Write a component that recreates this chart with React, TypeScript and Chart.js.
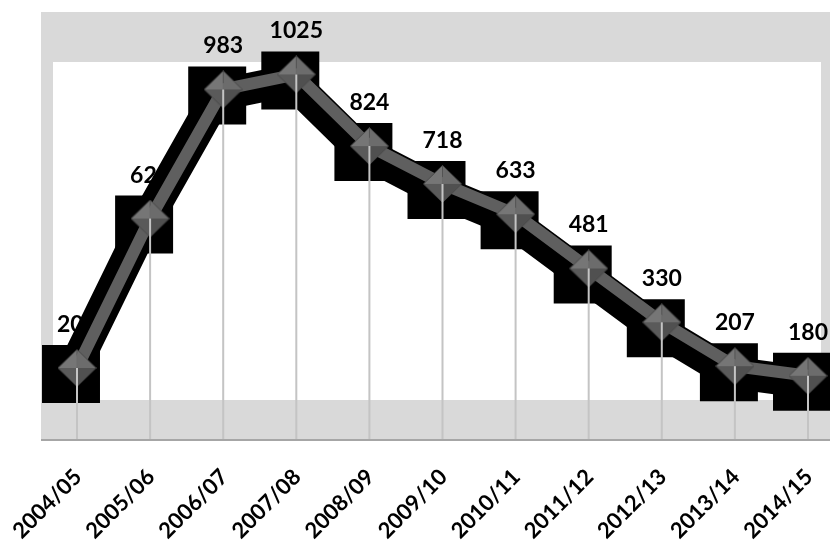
import React, { useEffect, useRef } from "react";
import { Chart, registerables } from "chart.js";

Chart.register(...registerables);

const categories = [
  "2004/05", "2005/06", "2006/07", "2007/08", "2008/09", "2009/10",
  "2010/11", "2011/12", "2012/13", "2013/14", "2014/15",
];
const values = [202, 621, 983, 1025, 824, 718, 633, 481, 330, 207, 180];
const yMin = 0;
const yMax = 1200;

function makeDiamond(): HTMLCanvasElement {
  const c = document.createElement("canvas");
  c.width = 39;
  c.height = 38;
  const g = c.getContext("2d")!;
  const cx = 19.5, cy = 19;
  const L = [0.5, 19], T = [19.5, 0.5], R = [38.5, 19], B = [19.5, 37.5];
  const facet = (a: number[], b: number[], col: string) => {
    g.beginPath();
    g.moveTo(a[0], a[1]);
    g.lineTo(b[0], b[1]);
    g.lineTo(cx, cy);
    g.closePath();
    g.fillStyle = col;
    g.fill();
  };
  facet(L, T, "#767676");
  facet(T, R, "#6c6c6c");
  facet(R, B, "#505050");
  facet(B, L, "#5a5a5a");
  g.beginPath();
  g.moveTo(L[0], L[1]); g.lineTo(T[0], T[1]); g.lineTo(R[0], R[1]); g.lineTo(B[0], B[1]); g.closePath();
  g.strokeStyle = "#4a4a4a";
  g.lineWidth = 1;
  g.stroke();
  return c;
}

const decorPlugin = {
  id: "decor",
  beforeDraw(chart: any) {
    const { ctx, chartArea } = chart;
    const left = chartArea.left - 36;
    const right = chart.width;
    ctx.save();
    ctx.fillStyle = "#d9d9d9";
    ctx.fillRect(left, chartArea.top, right - left, chartArea.bottom - chartArea.top);
    ctx.fillStyle = "#ffffff";
    ctx.fillRect(left + 12, chartArea.top + 50, right - 9 - (left + 12), chartArea.bottom - 40 - (chartArea.top + 50));
    ctx.restore();
  },
  beforeDatasetsDraw(chart: any) {
    const { ctx } = chart;
    const meta = chart.getDatasetMeta(0);
    ctx.save();
    ctx.font = "bold 23px Lato";
    ctx.fillStyle = "#000000";
    ctx.textAlign = "center";
    ctx.textBaseline = "alphabetic";
    meta.data.forEach((pt: any, i: number) => {
      ctx.fillText(String(values[i]), pt.x, pt.y - 36);
    });
    ctx.restore();
  },
  beforeDatasetDraw(chart: any, args: any) {
    if (args.index === 1) {
      chart.ctx.save();
      chart.ctx.translate(-6, 6);
    }
  },
  afterDatasetDraw(chart: any, args: any) {
    if (args.index === 1) {
      chart.ctx.restore();
    }
  },
  afterDatasetsDraw(chart: any) {
    const { ctx, chartArea } = chart;
    const meta = chart.getDatasetMeta(0);
    ctx.save();
    ctx.strokeStyle = "#c4c4c4";
    ctx.lineWidth = 2;
    meta.data.forEach((pt: any) => {
      ctx.beginPath();
      ctx.moveTo(pt.x, pt.y);
      ctx.lineTo(pt.x, chartArea.bottom);
      ctx.stroke();
    });
    ctx.strokeStyle = "#a6a6a6";
    ctx.lineWidth = 2;
    ctx.beginPath();
    ctx.moveTo(chartArea.left - 36, chartArea.bottom);
    ctx.lineTo(chart.width, chartArea.bottom);
    ctx.stroke();
    ctx.restore();
  },
};

export default function App() {
  const ref = useRef<HTMLCanvasElement>(null);
  useEffect(() => {
    if (!ref.current) return;
    const diamond = makeDiamond();
    const chart = new Chart(ref.current, {
      type: "line",
      data: {
        labels: categories,
        datasets: [
          {
            label: "main",
            data: values,
            borderColor: "#5f5f5f",
            borderWidth: 12,
            borderCapStyle: "butt",
            pointStyle: diamond as any,
            pointRadius: 19,
            pointBackgroundColor: "#666666",
            pointBorderWidth: 0,
            clip: false as any,
            order: 1,
          },
          {
            label: "shadow",
            data: values,
            borderColor: "#000000",
            borderWidth: 32,
            borderJoinStyle: "round",
            pointStyle: "rect",
            pointRadius: 41,
            pointBackgroundColor: "#000000",
            pointBorderColor: "#000000",
            pointBorderWidth: 0,
            clip: false as any,
            order: 2,
          },
        ],
      },
      options: {
        responsive: false,
        animation: false,
        events: [],
        layout: { autoPadding: false, padding: { left: 77, right: 22, top: 12, bottom: 0 } },
        plugins: { legend: { display: false }, tooltip: { enabled: false } },
        scales: {
          x: {
            type: "category",
            offset: false,
            grid: {
              display: true,
              drawOnChartArea: false,
              drawTicks: true,
              tickLength: 21,
              color: "rgba(0,0,0,0)",
            },
            border: { display: false },
            ticks: {
              color: "#000000",
              font: { family: "Lato", size: 22, weight: "bold" },
              minRotation: 45,
              maxRotation: 45,
              autoSkip: false,
              padding: 3,
              labelOffset: 1,
            },
            afterFit: (scale: any) => {
              scale.height = 101;
            },
          },
          y: {
            display: false,
            min: yMin,
            max: yMax,
          },
        },
      },
      plugins: [decorPlugin],
    });
    return () => chart.destroy();
  }, []);
  return (
    <div style={{ position: "fixed", left: 0, top: 0, width: 830, height: 541, background: "#ffffff" }}>
      <canvas ref={ref} width={830} height={541} style={{ width: 830, height: 541, display: "block" }} />
    </div>
  );
}
